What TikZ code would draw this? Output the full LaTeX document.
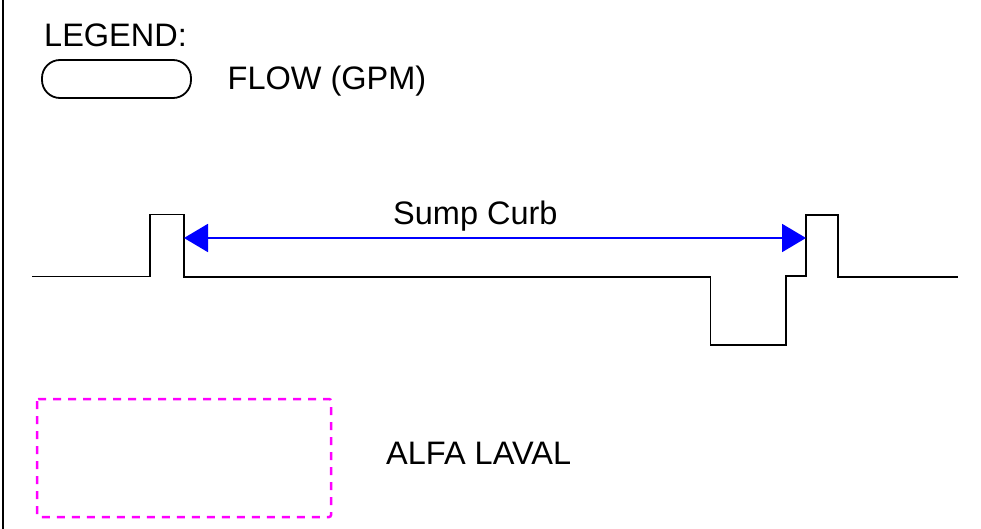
\documentclass[tikz,border=0pt]{standalone}
\usepackage{fontspec}
\setmainfont{Liberation Sans}
\usetikzlibrary{arrows.meta}
\definecolor{pinkdash}{RGB}{255,0,255}
\definecolor{dimblue}{RGB}{0,0,255}
\begin{document}
\begin{tikzpicture}[x=1pt,y=-1pt,
  lbl/.style={anchor=base west,inner sep=0pt,font=\fontsize{32.5}{38}\selectfont},
  profile/.style={draw=black,line width=1.8pt,line join=miter},
  dimline/.style={draw=dimblue,line width=2pt,{Triangle[length=24pt,width=28pt]}-{Triangle[length=24pt,width=28pt]}},
  legendbox/.style={draw=black,line width=1.8pt,rounded corners=18pt},
  alfabox/.style={draw=pinkdash,line width=2.5pt,dash pattern=on 8pt off 7pt,rounded corners=2pt}]
\useasboundingbox (0,0) rectangle (981,529);
% left border
\draw[line width=2.5pt] (3,0) -- (3,529);
% legend
\node[lbl] (legend) at (44,47) {LEGEND:};
\draw[legendbox] (42,60) rectangle (191,98);
\node[lbl] (flow) at (227.5,90) {FLOW (GPM)};
% profile
\coordinate (lwall) at (184,238);
\coordinate (rwall) at (806,238);
\draw[profile] (32,276.5) -- (150,276.5) -- (150,214.5) -- (184,214.5) -- (184,277)
  -- (710.5,277) -- (710.5,345) -- (786,345) -- (786,276) -- (806,276) -- (806,215)
  -- (838,215) -- (838,277) -- (958,277);
\draw[dimline] (lwall) -- (rwall);
\node[lbl] (sump) at (393,224) {Sump Curb};
% alfa laval
\draw[alfabox] (37,399) rectangle (331,517);
\node[lbl] (alfa) at (386,464) {ALFA LAVAL};
\end{tikzpicture}
\end{document}
